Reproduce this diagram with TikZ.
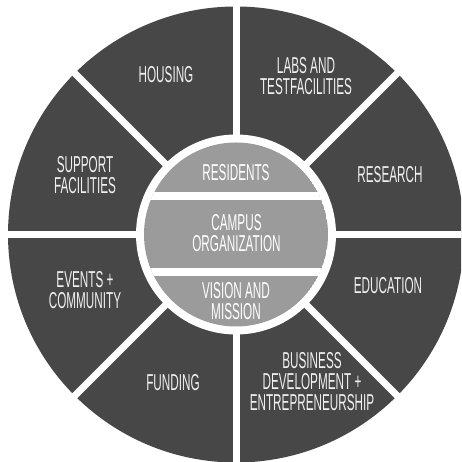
\documentclass[tikz,border=0pt]{standalone}
\usepackage{fontspec}
\setmainfont[FakeStretch=0.51]{Liberation Sans}
\definecolor{sectordark}{HTML}{474747}
\definecolor{innergray}{HTML}{9B9B9B}
\definecolor{labeltext}{HTML}{F0F0F0}
\begin{document}
\begin{tikzpicture}[x=1pt,y=1pt,
  lbl/.style={text=labeltext, align=center, inner sep=0pt, font=\fontsize{23}{21}\selectfont},
  gapline/.style={white, line width=7pt}]
\useasboundingbox (0,0) rectangle (461,462);
\clip (0,0) rectangle (461,462);
\fill[white] (0,0) rectangle (461,462);
\coordinate (c) at (236,227.5);
% outer ring of sectors
\fill[sectordark] (c) circle[radius=228];
\foreach \a in {0,45,...,315} \draw[gapline] (c) -- ++(\a:240);
\fill[white] (c) circle[radius=100];
% inner disc with bands
\begin{scope}
  \clip (c) circle[radius=92];
  \fill[innergray] (c) circle[radius=92];
  \fill[white] (130,261.5) rectangle (342,269.5);
  \fill[white] (130,185.5) rectangle (342,193.5);
\end{scope}
% sector labels
\node[lbl] (housing) at (166,387) {HOUSING};
\node[lbl] (labs) at (306,386) {LABS AND\\TESTFACILITIES};
\node[lbl] (research) at (390,287) {RESEARCH};
\node[lbl] (education) at (388,176) {EDUCATION};
\node[lbl] (business) at (312,80) {BUSINESS\\DEVELOPMENT +\\ENTREPRENEURSHIP};
\node[lbl] (funding) at (173,79) {FUNDING};
\node[lbl] (events) at (85,172) {EVENTS +\\COMMUNITY};
\node[lbl] (support) at (85,287) {SUPPORT\\FACILITIES};
% inner labels
\node[lbl, text=white] (residents) at (236,289.5) {RESIDENTS};
\node[lbl, text=white] (campus) at (236.5,228.5) {CAMPUS\\ORGANIZATION};
\node[lbl, text=white] (vision) at (236,161) {VISION AND\\MISSION};
\end{tikzpicture}
\end{document}
